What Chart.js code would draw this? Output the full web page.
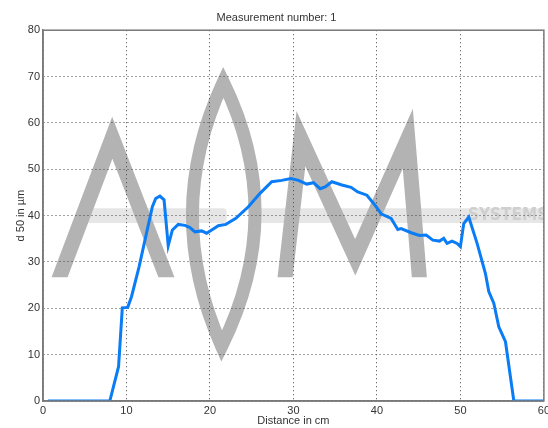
<!DOCTYPE html>
<html>
<head>
<meta charset="utf-8">
<script src="https://cdn.jsdelivr.net/npm/chart.js@4.4.1/dist/chart.umd.min.js"></script>
<style>
  html, body { margin: 0; padding: 0; background: #fff; overflow: hidden; }
  #wrap { width: 548px; height: 428px; overflow: hidden; }
</style>
</head>
<body>
<div id="wrap"><canvas id="measChart" width="553" height="428"></canvas></div>
<script>
// distance along the sample (cm) and measured d50 (um)
var distance = [0.6, 8.0, 9.05, 9.5, 10.15, 10.6, 11.5, 12.3, 13.1, 13.5, 14.0, 14.5, 15.0, 15.5, 16.2,
  17.0, 17.6, 18.2, 19.0, 19.6, 20.3, 21.0, 21.9, 23.1, 24.6, 26.0, 27.4, 28.6, 29.7, 30.6, 31.6,
  32.4, 33.2, 33.8, 34.6, 35.8, 36.9, 37.7, 38.8, 39.7, 40.5, 41.7, 42.5, 42.9, 44.1, 45.1, 45.9,
  46.7, 47.5, 48.0, 48.4, 49.0, 49.6, 50.0, 50.4, 51.0, 52.0, 53.0, 53.4, 54.0, 54.6, 55.4, 56.4, 60];
var d50 = [0, 0, 7.4, 20.1, 20.2, 22.5, 28.9, 35.4, 41.9, 43.7, 44.2, 43.4, 33.5, 36.9, 38.1,
  37.9, 37.4, 36.5, 36.7, 36.2, 37.0, 37.8, 38.1, 39.4, 41.9, 44.8, 47.3, 47.6, 48.0, 47.6, 46.8,
  47.1, 45.8, 46.2, 47.3, 46.6, 46.1, 45.1, 44.4, 42.4, 40.4, 39.4, 37.0, 37.2, 36.3, 35.7, 35.8,
  34.7, 34.5, 35.1, 34.0, 34.5, 34.0, 33.3, 38.3, 39.7, 34.0, 27.5, 23.6, 21.1, 16.0, 12.8, 0, 0];

var points = distance.map(function (d, i) { return { x: d, y: d50[i] }; });

// grey logo behind the grid, drawn in axis units
var watermark = {
  id: 'watermark',
  beforeDraw: function (chart) {
    var ctx = chart.ctx, a = chart.chartArea;
    var xs = chart.scales.x, ys = chart.scales.y;
    function X(v) { return xs.getPixelForValue(v); }
    function Y(v) { return ys.getPixelForValue(v); }
    ctx.save();
    ctx.beginPath();
    ctx.rect(a.left, a.top, a.right - a.left, a.bottom - a.top);
    ctx.clip();

    ctx.fillStyle = '#e6e6e6';
    ctx.beginPath();
    ctx.roundRect(X(5.2), Y(41.6), X(22.0) - X(5.2), Y(38.4) - Y(41.6), 4);
    ctx.roundRect(X(25.0), Y(41.6), X(62) - X(25.0), Y(38.4) - Y(41.6), 4);
    ctx.fill();

    ctx.fillStyle = '#cfcfcf';
    ctx.font = 'bold 17px "Liberation Sans Narrow", "DejaVu Sans Condensed", sans-serif';
    ctx.textBaseline = 'middle';
    ctx.fillText('SYSTEMS', X(50.9), Y(40.0));

    ctx.strokeStyle = '#b3b3b3';
    ctx.lineJoin = 'miter';

    ctx.lineWidth = 13;
    ctx.beginPath();
    ctx.moveTo(X(21.6), Y(68.8));
    ctx.quadraticCurveTo(X(14.3), Y(40.5), X(21.4), Y(11.8));
    ctx.quadraticCurveTo(X(29.3), Y(40.5), X(21.6), Y(68.8));
    ctx.closePath();
    ctx.stroke();

    // A and M legs end on a flat baseline
    ctx.save();
    ctx.beginPath();
    ctx.rect(a.left, a.top, a.right - a.left, Y(26.7) - a.top);
    ctx.clip();
    ctx.lineWidth = 15;
    ctx.beginPath();
    ctx.moveTo(X(1.0), Y(22));
    ctx.lineTo(X(8.3), Y(56.8));
    ctx.lineTo(X(15.8), Y(22));
    ctx.stroke();

    ctx.beginPath();
    ctx.moveTo(X(28.7), Y(22));
    ctx.lineTo(X(30.9), Y(56.6));
    ctx.lineTo(X(37.4), Y(31));
    ctx.lineTo(X(43.7), Y(56.6));
    ctx.lineTo(X(45.3), Y(22));
    ctx.stroke();
    ctx.restore();
    ctx.restore();
  }
};

var frame = {
  id: 'frame',
  afterDraw: function (chart) {
    var ctx = chart.ctx, a = chart.chartArea;
    ctx.save();
    ctx.strokeStyle = '#7a7a7a';
    ctx.lineWidth = 1.5;
    ctx.strokeRect(a.left, a.top, a.right - a.left, a.bottom - a.top);
    ctx.restore();
  }
};

Chart.defaults.font.family = '"Liberation Sans", Arial, sans-serif';
Chart.defaults.font.size = 11;
Chart.defaults.color = '#333';

var ctx = document.getElementById('measChart').getContext('2d');
var chart = new Chart(ctx, {
  type: 'line',
  data: {
    datasets: [{
      data: points,
      borderColor: '#0a7cf6',
      borderWidth: 3,
      pointRadius: 0,
      tension: 0,
      fill: false
    }]
  },
  options: {
    responsive: false,
    animation: false,
    layout: { padding: 0 },
    plugins: {
      legend: { display: false },
      tooltip: { enabled: false },
      title: {
        display: true,
        text: 'Measurement number: 1',
        color: '#333',
        font: { size: 11, weight: 'normal' },
        padding: { top: 11, bottom: 6 }
      }
    },
    scales: {
      x: {
        type: 'linear',
        min: 0,
        max: 60,
        ticks: { stepSize: 10, padding: 3, maxRotation: 0 },
        grid: { color: '#444', drawTicks: false },
        border: { dash: [1, 3], color: '#7a7a7a', width: 1.5 },
        title: { display: true, text: 'Distance in cm', padding: { top: 0, bottom: 0 } },
        afterFit: function (scale) { scale.height = 27; }
      },
      y: {
        min: 0,
        max: 80,
        ticks: { stepSize: 10, padding: 3 },
        grid: { color: '#444', drawTicks: false },
        border: { dash: [1, 3], color: '#7a7a7a', width: 1.5 },
        title: { display: true, text: 'd 50 in µm', padding: { top: 14, bottom: 0 } },
        afterFit: function (scale) { scale.width = 43; }
      }
    }
  },
  plugins: [watermark, frame]
});
</script>
</body>
</html>
